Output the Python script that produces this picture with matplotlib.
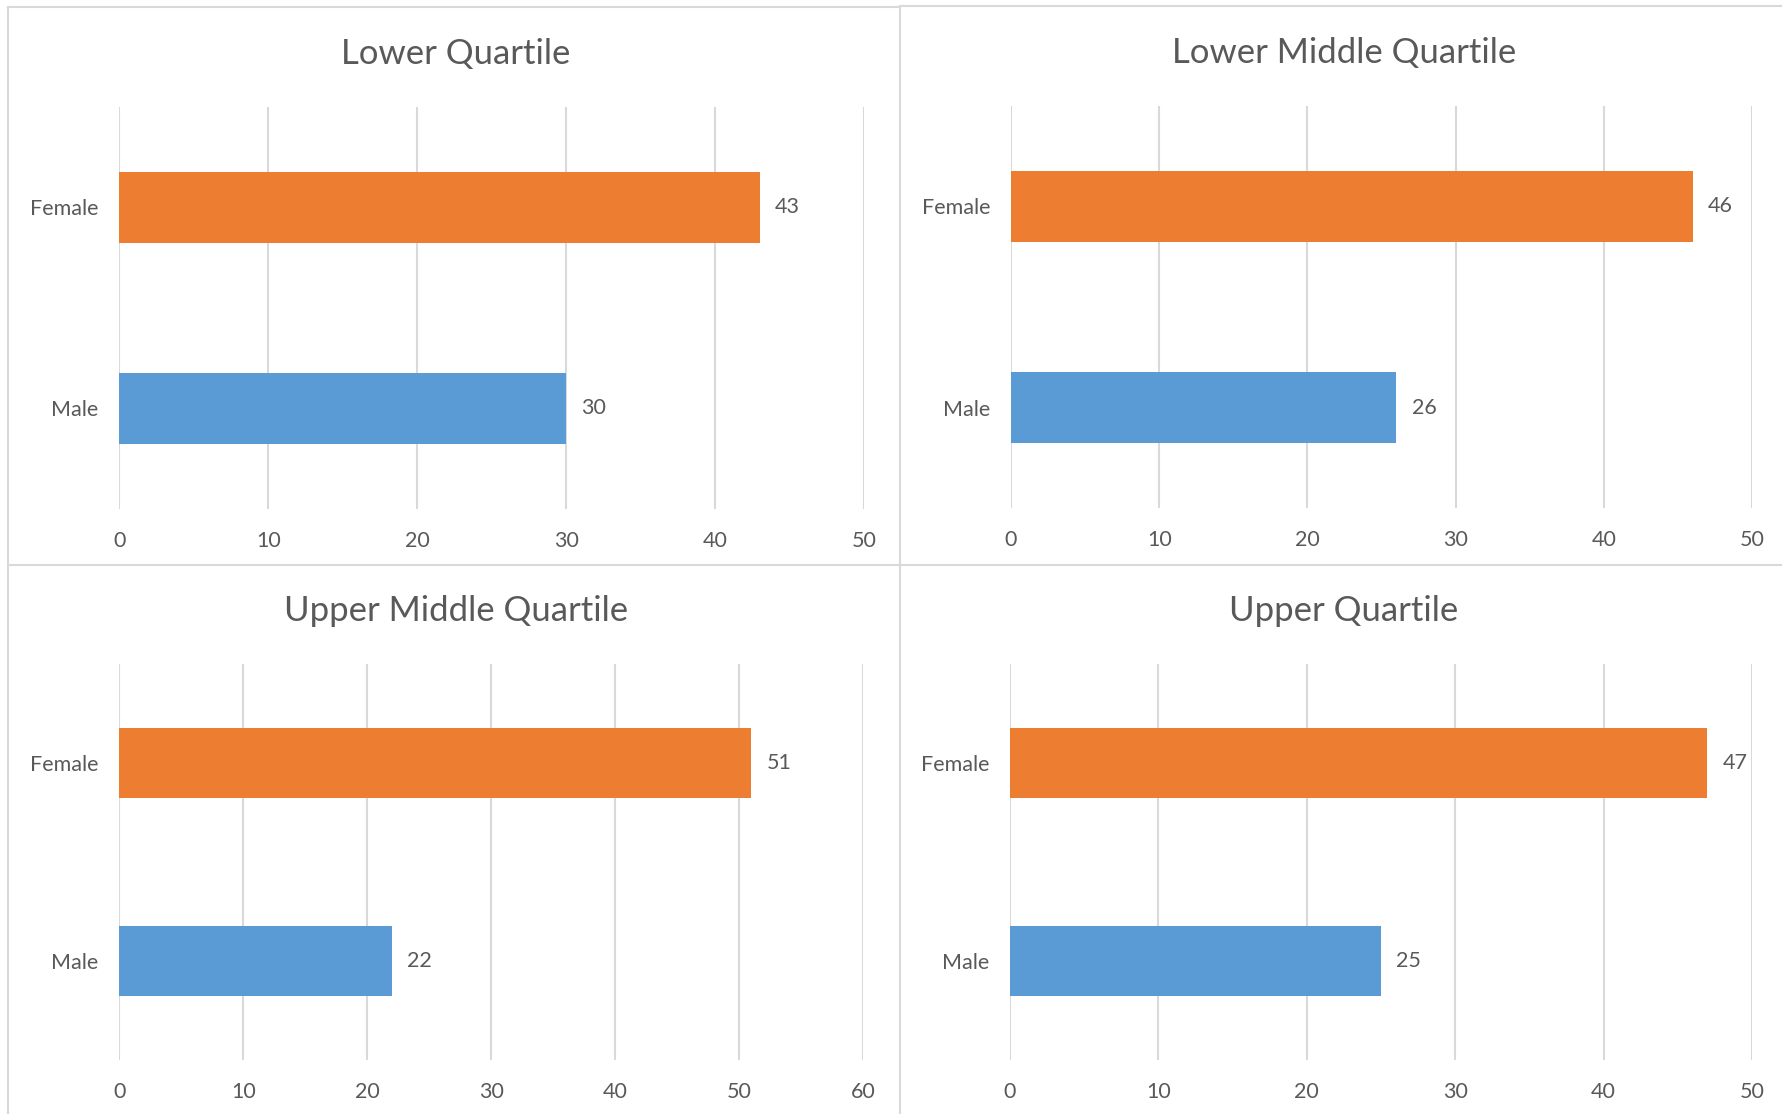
import matplotlib.pyplot as plt
from matplotlib.lines import Line2D

plt.rcParams['font.family'] = ['Lato', 'DejaVu Sans']

categories = ["Male", "Female"]
titles = ["Lower Quartile", "Lower Middle Quartile", "Upper Middle Quartile", "Upper Quartile"]
male = [30, 26, 22, 25]
female = [43, 46, 51, 47]
xmax = [50, 50, 60, 50]

W, H = 1783, 1114
text_col = "#595959"
grid_col = "#D9D9D9"
colors = ["#5B9BD5", "#ED7D31"]

# axes boxes in pixels: left, right, top, bottom
boxes = [
    (119.5, 864, 107, 509),
    (1011, 1752, 106, 508),
    (119.5, 863, 664, 1060),
    (1010, 1752, 664, 1060),
]
title_pos = [(456, 54), (1344, 53), (456, 611), (1344, 611)]

fig = plt.figure(figsize=(W / 100, H / 100), dpi=100)

for i in range(4):
    l, r, t, b = boxes[i]
    ax = fig.add_axes([l / W, 1 - b / H, (r - l) / W, (b - t) / H])
    vals = [male[i], female[i]]
    ax.barh(range(2), vals, height=0.35, color=colors, zorder=3)
    ax.set_ylim(-0.5, 1.5)
    ax.set_xlim(0, xmax[i])
    ax.set_xticks(range(0, xmax[i] + 1, 10))
    ax.set_yticks(range(2))
    ax.set_yticklabels(categories)
    ax.tick_params(length=0, labelsize=15.5, colors=text_col)
    ax.tick_params(axis='y', pad=15)
    ax.tick_params(axis='x', pad=16)
    ax.grid(axis='x', color=grid_col, linewidth=1.5, zorder=0)
    for s in ax.spines.values():
        s.set_visible(False)
    for y, v in enumerate(vals):
        ax.annotate(str(v), (v, y), xytext=(11, 0), textcoords="offset points",
                    ha='left', va='center', fontsize=15.5, color=text_col)
    tx, ty = title_pos[i]
    fig.text(tx / W, 1 - ty / H, titles[i], ha='center', va='center',
             fontsize=25, color=text_col)

# panel borders
border_lines = [
    ([8, 900], [7, 7]),
    ([900, 1783], [6, 6]),
    ([8, 8], [7, 1114]),
    ([900, 900], [6, 1114]),
    ([8, 1783], [565, 565]),
]
for xs, ys in border_lines:
    fig.add_artist(Line2D([x / W for x in xs], [1 - y / H for y in ys],
                          color=grid_col, linewidth=1.5))

fig.savefig("out.png", dpi=100, facecolor="white")
